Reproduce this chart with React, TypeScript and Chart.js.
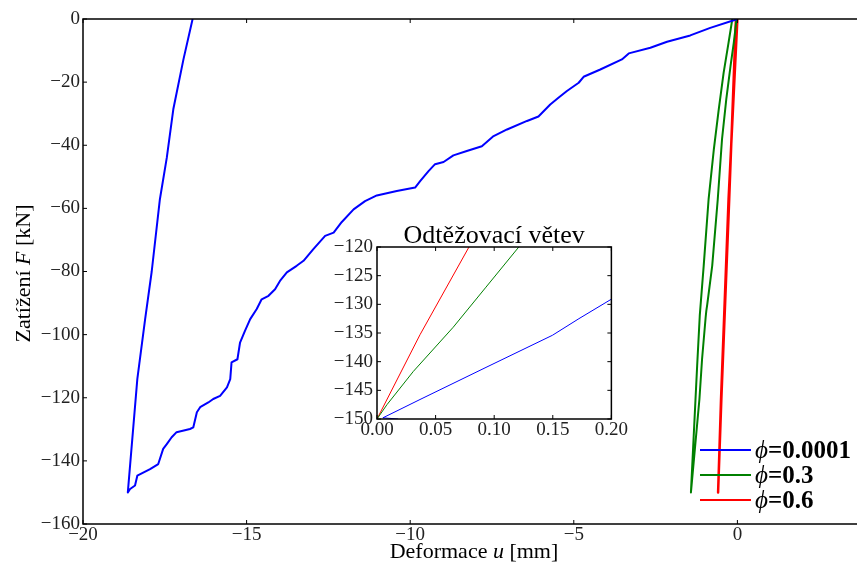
import React, { useEffect, useRef } from "react";
import { Chart, registerables } from "chart.js";

Chart.register(...registerables);

const FAMILY = "'Liberation Serif', 'DejaVu Serif', serif";

// ---- main axes ----
const X_MIN = -20;
const X_MAX = 3.9;
const Y_MIN = -160;
const Y_MAX = 0;
const X_TICKS = [-20, -15, -10, -5, 0];
const Y_TICKS = [-160, -140, -120, -100, -80, -60, -40, -20, 0];

// ---- inset axes ----
const INSET_X_MIN = 0;
const INSET_X_MAX = 0.2;
const INSET_Y_MIN = -150;
const INSET_Y_MAX = -120;
const INSET_X_TICKS = [0, 0.05, 0.1, 0.15, 0.2];
const INSET_Y_TICKS = [-150, -145, -140, -135, -130, -125, -120];

// ---- texts ----
const X_TITLE = ["Deformace ", "u", " [mm]"];
const Y_TITLE = ["Zatížení ", "F", " [kN]"];
const INSET_TITLE = "Odtěžovací větev";
const SERIES_LABELS = ["0.0001", "0.3", "0.6"];
const SERIES_COLORS = ["#0000ff", "#008000", "#ff0000"];

// ---- φ = 0.0001 (loading, then unloading) ----
const blueLoadU = [0, -0.11, -0.83, -1.44, -2.15, -2.66, -3.32, -3.53, -4.19, -4.7, -4.85, -5.21, -5.46, -5.72, -6.08, -6.43, -7.04, -7.45, -7.81, -8.27, -8.68, -8.98, -9.24, -9.44, -9.69, -9.85, -10.41, -11.02, -11.38, -11.73, -12.09, -12.34, -12.6, -12.96, -13.26, -13.47, -13.77, -13.98, -14.13, -14.33, -14.54, -14.69, -14.89, -15.05, -15.2, -15.28, -15.46, -15.5, -15.6, -15.81, -16.02, -16.17, -16.42, -16.52, -16.63, -16.73, -17.14, -17.29, -17.44, -17.55, -17.7, -17.95, -18.34, -18.41, -18.56, -18.63];
const blueLoadF = [0, -0.4, -2.8, -5.2, -7.2, -9.1, -10.9, -12.8, -16.0, -18.3, -20.2, -22.8, -24.9, -27.1, -30.9, -32.3, -35.0, -37.1, -40.3, -41.8, -43.2, -45.3, -46.0, -48.2, -51.3, -53.4, -54.5, -55.9, -57.7, -60.3, -64.3, -67.7, -68.7, -72.9, -76.6, -78.2, -80.3, -83.0, -85.6, -87.7, -88.8, -91.9, -95.1, -98.8, -102.5, -107.8, -108.8, -114.1, -116.7, -119.4, -120.4, -121.5, -123.0, -124.6, -129.4, -129.9, -130.9, -132.5, -134.7, -136.2, -141.0, -142.6, -144.7, -147.8, -148.9, -150.0];
const blueUnloadU = [-18.34, -18.1, -17.9, -17.65, -17.44, -17.24, -16.93, -16.65];
const blueUnloadF = [-114.1, -95.0, -80.0, -57.1, -44.0, -28.6, -12.8, 0];

// ---- φ = 0.3 ----
const greenLoadU = [0, -0.03, -0.11, -0.21, -0.34, -0.47, -0.6, -0.77, -0.92, -0.95, -0.97, -1.08, -1.16, -1.42];
const greenLoadF = [0, -0.4, -7.5, -14.9, -25.5, -38.1, -57.1, -78.2, -90.3, -92.5, -94.5, -107.8, -120.4, -150];
const greenUnloadU = [-1.28, -1.23, -1.15, -1.03, -0.88, -0.72, -0.57, -0.42, -0.27, -0.155];
const greenUnloadF = [-120.4, -109.9, -94.0, -78.2, -57.1, -41.3, -28.6, -17.0, -7.5, 0];

// ---- φ = 0.6 ----
const redLoadU = [0, -0.27, -0.5, -0.59];
const redLoadF = [0, -57.1, -120.4, -150];
const redUnloadU = [-0.49, -0.25, -0.045];
const redUnloadF = [-120.4, -57.1, 0];

// ---- inset: unloading branches, u shifted to the unloading start ----
const insetBlueU = [0.018, 0.005, 0.0367, 0.093, 0.1497, 0.1723, 0.2];
const insetBlueF = [-150, -149.8, -146.6, -141.0, -135.4, -132.5, -129.1];
const insetGreenU = [0, 0.0085, 0.031, 0.065, 0.093, 0.121];
const insetGreenF = [-150, -147.5, -141.7, -134.0, -127.0, -120];
const insetRedU = [0, 0.0367, 0.0785];
const insetRedF = [-150, -135.3, -120];

const pts = (u: number[], f: number[]) => u.map((v, i) => ({ x: v, y: f[i] }));
const minus = (v: number) => (v < 0 ? "\u2212" + Math.abs(v) : String(v));

type Run = { text: string; font: string };
function drawRuns(ctx: CanvasRenderingContext2D, runs: Run[], x: number, y: number, align: "left" | "center") {
  let w = 0;
  for (const r of runs) {
    ctx.font = r.font;
    w += ctx.measureText(r.text).width;
  }
  let cx = align === "center" ? x - w / 2 : x;
  ctx.textAlign = "left";
  ctx.textBaseline = "alphabetic";
  for (const r of runs) {
    ctx.font = r.font;
    ctx.fillText(r.text, cx, y);
    cx += ctx.measureText(r.text).width;
  }
}

function frame(chart: any, tickLen: number, spine: number) {
  const { ctx, chartArea, scales } = chart;
  const { left, right, top, bottom } = chartArea;
  const x = scales.x;
  const y = scales.y;
  ctx.save();
  ctx.strokeStyle = "#000";
  ctx.lineWidth = 1;
  ctx.beginPath();
  for (const t of x.ticks) {
    const px = x.getPixelForValue(t.value);
    ctx.moveTo(px, bottom);
    ctx.lineTo(px, bottom - tickLen);
    ctx.moveTo(px, top);
    ctx.lineTo(px, top + tickLen);
  }
  for (const t of y.ticks) {
    const py = y.getPixelForValue(t.value);
    ctx.moveTo(left, py);
    ctx.lineTo(left + tickLen, py);
    ctx.moveTo(right, py);
    ctx.lineTo(right - tickLen, py);
  }
  ctx.stroke();
  ctx.lineWidth = spine;
  ctx.strokeRect(left, top, right - left, bottom - top);
  ctx.restore();
}

const mainDecor = {
  id: "mainDecor",
  afterDraw(chart: any) {
    frame(chart, 4, 1.5);
    const { ctx, chartArea } = chart;
    const { left, right, top, bottom } = chartArea;
    ctx.save();
    ctx.fillStyle = "#000";
    const reg = `22px ${FAMILY}`;
    const ital = `italic 22px ${FAMILY}`;
    drawRuns(
      ctx,
      [
        { text: X_TITLE[0], font: reg },
        { text: X_TITLE[1], font: ital },
        { text: X_TITLE[2], font: reg },
      ],
      (left + right) / 2,
      558,
      "center"
    );
    ctx.save();
    ctx.translate(30, (top + bottom) / 2 + 2);
    ctx.rotate(-Math.PI / 2);
    drawRuns(
      ctx,
      [
        { text: Y_TITLE[0], font: reg },
        { text: Y_TITLE[1], font: ital },
        { text: Y_TITLE[2], font: reg },
      ],
      0,
      0,
      "center"
    );
    ctx.restore();
    // legend
    const rows = [450, 475, 500];
    SERIES_LABELS.forEach((lab, i) => {
      const yy = rows[i];
      ctx.strokeStyle = SERIES_COLORS[i];
      ctx.lineWidth = 2;
      ctx.beginPath();
      ctx.moveTo(700, yy);
      ctx.lineTo(751, yy);
      ctx.stroke();
      ctx.fillStyle = "#000";
      drawRuns(
        ctx,
        [
          { text: "\u03D5", font: `italic 25px ${FAMILY}` },
          { text: "=" + lab, font: `bold 25px ${FAMILY}` },
        ],
        755,
        yy + 8,
        "left"
      );
    });
    ctx.restore();
  },
};

const insetDecor = {
  id: "insetDecor",
  beforeDatasetsDraw(chart: any) {
    const { ctx, chartArea } = chart;
    ctx.save();
    ctx.fillStyle = "#fff";
    ctx.fillRect(chartArea.left, chartArea.top, chartArea.right - chartArea.left, chartArea.bottom - chartArea.top);
    ctx.restore();
  },
  afterDraw(chart: any) {
    frame(chart, 4, 1.5);
    const { ctx, chartArea } = chart;
    ctx.save();
    ctx.fillStyle = "#000";
    drawRuns(ctx, [{ text: INSET_TITLE, font: `26px ${FAMILY}` }], (chartArea.left + chartArea.right) / 2, 28, "center");
    ctx.restore();
  },
};

const tickFont = { family: FAMILY, size: 19, lineHeight: 1 };

function mainConfig(): any {
  const line = (label: string, color: string, data: any[], w: number) => ({
    label,
    data,
    borderColor: color,
    backgroundColor: color,
    borderWidth: w,
    pointRadius: 0,
    showLine: true,
    tension: 0,
    fill: false,
    borderJoinStyle: "round",
  });
  return {
    type: "scatter",
    data: {
      datasets: [
        line("\u03D5=" + SERIES_LABELS[0], SERIES_COLORS[0], pts(blueLoadU.concat(blueUnloadU), blueLoadF.concat(blueUnloadF)), 2),
        line("\u03D5=" + SERIES_LABELS[1], SERIES_COLORS[1], pts(greenLoadU.concat(greenUnloadU), greenLoadF.concat(greenUnloadF)), 2),
        line("\u03D5=" + SERIES_LABELS[2], SERIES_COLORS[2], pts(redLoadU.concat(redUnloadU), redLoadF.concat(redUnloadF)), 2.5),
      ],
    },
    options: {
      responsive: false,
      animation: false,
      devicePixelRatio: 1,
      layout: { padding: { top: 19, right: 1, left: 0, bottom: 0 } },
      plugins: { legend: { display: false }, tooltip: { enabled: false } },
      scales: {
        x: {
          type: "linear",
          min: X_MIN,
          max: X_MAX,
          afterBuildTicks: (s: any) => {
            s.ticks = X_TICKS.map((v) => ({ value: v }));
          },
          afterFit: (s: any) => {
            s.height = 38;
          },
          grid: { display: false, drawTicks: false },
          border: { display: false },
          ticks: { callback: (v: number) => minus(v), font: tickFont, color: "#222", padding: 2, maxRotation: 0, autoSkip: false },
        },
        y: {
          type: "linear",
          min: Y_MIN,
          max: Y_MAX,
          afterBuildTicks: (s: any) => {
            s.ticks = Y_TICKS.map((v) => ({ value: v }));
          },
          afterFit: (s: any) => {
            s.width = 83;
          },
          grid: { display: false, drawTicks: false },
          border: { display: false },
          ticks: { callback: (v: number) => minus(v), font: tickFont, color: "#222", padding: 3, autoSkip: false },
        },
      },
    },
    plugins: [mainDecor],
  };
}

function insetConfig(): any {
  const line = (label: string, color: string, data: any[]) => ({
    label,
    data,
    borderColor: color,
    backgroundColor: color,
    borderWidth: 1,
    pointRadius: 0,
    showLine: true,
    tension: 0,
    fill: false,
  });
  return {
    type: "scatter",
    data: {
      datasets: [
        line("\u03D5=" + SERIES_LABELS[0], SERIES_COLORS[0], pts(insetBlueU, insetBlueF)),
        line("\u03D5=" + SERIES_LABELS[1], SERIES_COLORS[1], pts(insetGreenU, insetGreenF)),
        line("\u03D5=" + SERIES_LABELS[2], SERIES_COLORS[2], pts(insetRedU, insetRedF)),
      ],
    },
    options: {
      responsive: false,
      animation: false,
      devicePixelRatio: 1,
      layout: { padding: { top: 32, right: 17, left: 0, bottom: 0 } },
      plugins: { legend: { display: false }, tooltip: { enabled: false } },
      scales: {
        x: {
          type: "linear",
          min: INSET_X_MIN,
          max: INSET_X_MAX,
          afterBuildTicks: (s: any) => {
            s.ticks = INSET_X_TICKS.map((v) => ({ value: v }));
          },
          afterFit: (s: any) => {
            s.height = 36;
          },
          grid: { display: false, drawTicks: false },
          border: { display: false },
          ticks: { callback: (v: number) => v.toFixed(2), font: tickFont, color: "#222", padding: 2, maxRotation: 0, autoSkip: false },
        },
        y: {
          type: "linear",
          min: INSET_Y_MIN,
          max: INSET_Y_MAX,
          afterBuildTicks: (s: any) => {
            s.ticks = INSET_Y_TICKS.map((v) => ({ value: v }));
          },
          afterFit: (s: any) => {
            s.width = 77;
          },
          grid: { display: false, drawTicks: false },
          border: { display: false },
          ticks: { callback: (v: number) => minus(v), font: tickFont, color: "#222", padding: 4, autoSkip: false },
        },
      },
    },
    plugins: [insetDecor],
  };
}

export default function App() {
  const mainRef = useRef<HTMLCanvasElement>(null);
  const insetRef = useRef<HTMLCanvasElement>(null);
  useEffect(() => {
    const main = new Chart(mainRef.current as HTMLCanvasElement, mainConfig());
    const inset = new Chart(insetRef.current as HTMLCanvasElement, insetConfig());
    return () => {
      main.destroy();
      inset.destroy();
    };
  }, []);
  return (
    <div style={{ position: "fixed", left: 0, top: 0, width: 857, height: 562, overflow: "hidden", background: "#fff" }}>
      <canvas ref={mainRef} width={866} height={562} style={{ position: "absolute", left: 0, top: 0, width: 866, height: 562 }} />
      <canvas ref={insetRef} width={330} height={240} style={{ position: "absolute", left: 300, top: 215, width: 330, height: 240 }} />
    </div>
  );
}
